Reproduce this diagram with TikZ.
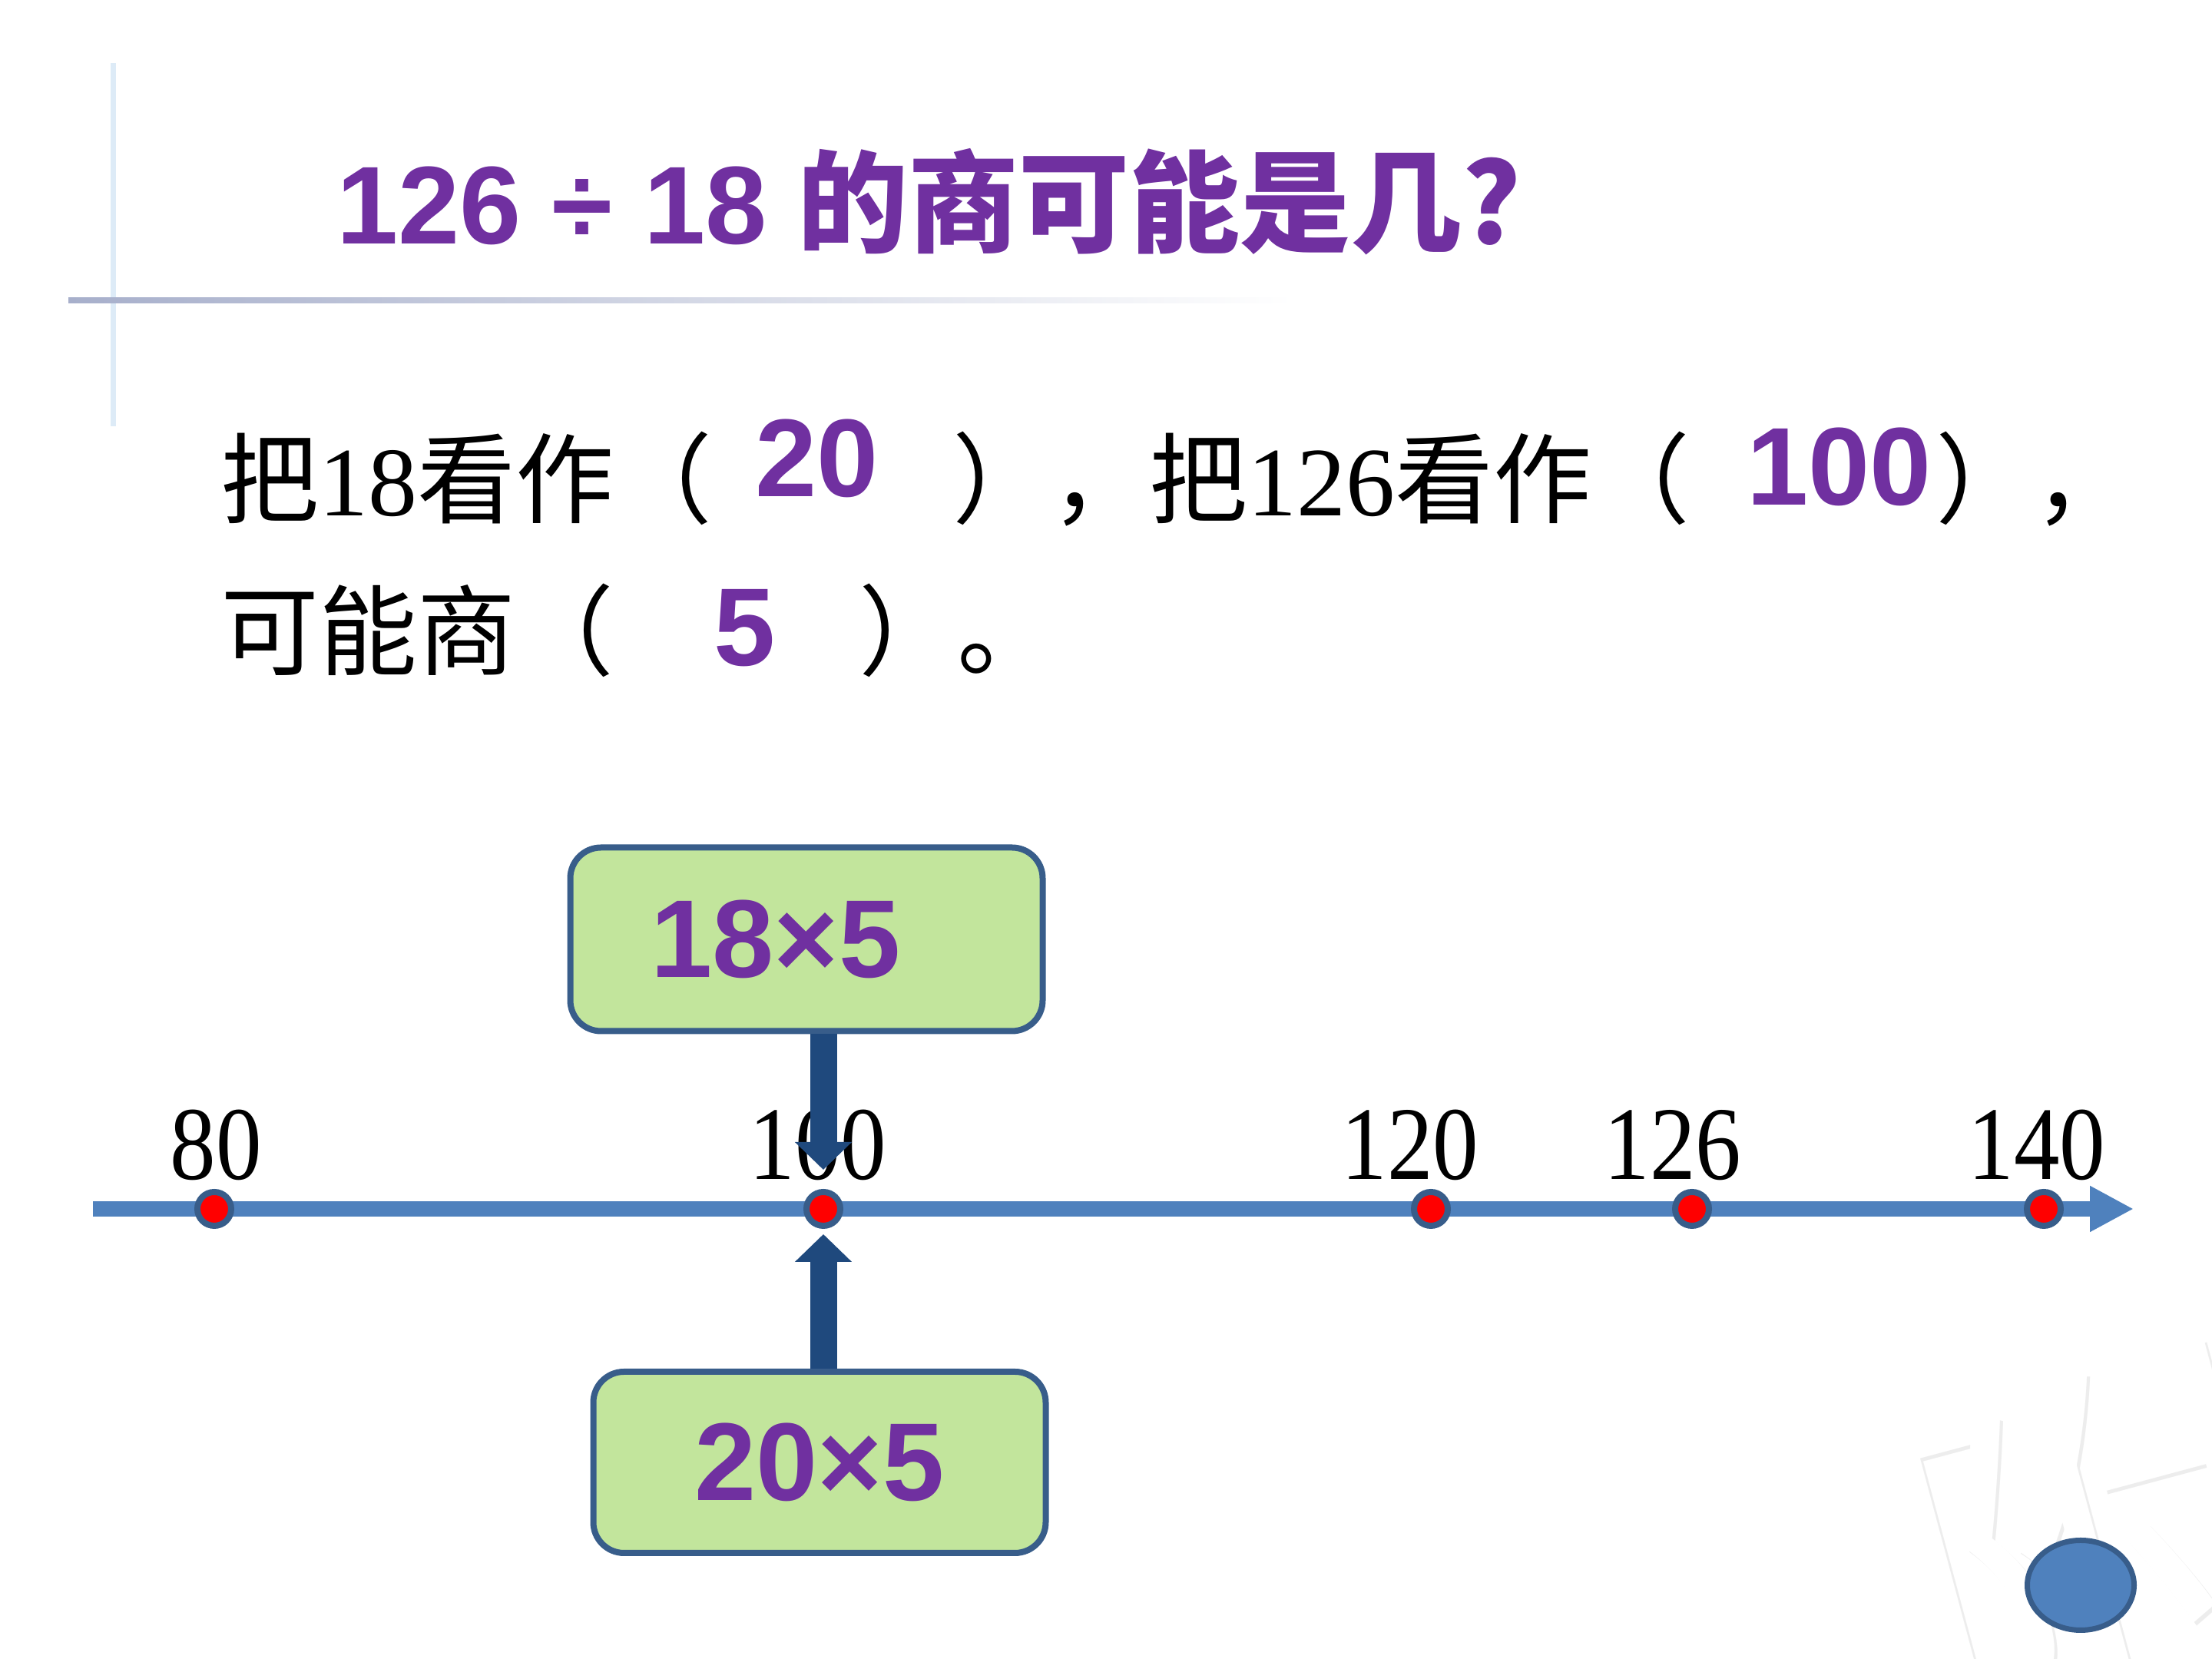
\documentclass[tikz,border=0pt]{standalone}
\usepackage{fontspec}
\setmainfont{Liberation Serif}
\newfontfamily\cjk{Noto Sans CJK SC}
\newfontfamily\arialfont{Liberation Sans}
\usetikzlibrary{arrows.meta}
\definecolor{qPurple}{HTML}{7030A0}
\definecolor{lineBlue}{HTML}{4F81BD}
\definecolor{edgeBlue}{HTML}{385D8A}
\definecolor{arrowNavy}{HTML}{1F497D}
\definecolor{boxGreen}{HTML}{C2E59C}
\definecolor{ruleGray}{HTML}{A7AFCB}
\definecolor{ruleBlue}{HTML}{DDEBF7}
\newcommand{\bodyfont}{\fontsize{36.4pt}{40pt}\selectfont}
\newcommand{\ansfont}{\arialfont\bfseries\fontsize{41pt}{44pt}\selectfont}
\newcommand{\numlabel}[1]{\scalebox{0.875}[1]{#1}}

\begin{document}
\begin{tikzpicture}[
  txt/.style={anchor=base west, inner sep=0pt, font=\bodyfont},
  ans/.style={anchor=base west, inner sep=0pt, font=\ansfont, text=qPurple},
  dot/.style={circle, fill=red, draw=edgeBlue, line width=0.08cm,
              minimum size=0.44cm, inner sep=0pt},
  ticklbl/.style={anchor=base, inner sep=0pt,
                  font=\fontsize{38.7pt}{40pt}\selectfont},
  mulbox/.style={draw=edgeBlue, line width=0.08cm, fill=boxGreen,
                 rounded corners=0.4cm, font=\ansfont, text=qPurple,
                 inner sep=0pt},
  bigarrow/.style={arrowNavy, line width=0.35cm,
                   -{Triangle[length=0.36cm, width=0.72cm]}}
]
\useasboundingbox (0,0) rectangle (28.8,21.6);

% faint watermark
\begin{scope}
\clip (0,0) rectangle (28.8,21.6);
\node[rotate=15, text=black!7, font=\cjk\fontsize{156pt}{156pt}\selectfont]
  (wmshadow) at (27.39,1.21) {附};
\node[rotate=15, text=white, font=\cjk\fontsize{156pt}{156pt}\selectfont]
  (wm) at (27.35,1.25) {附};
\end{scope}

% title rules
\fill[ruleBlue] (1.44,16.05) rectangle (1.51,20.78);
\shade[left color=ruleGray, right color=white] (0.89,17.655) rectangle (16.84,17.725);

% title
\node[ans] (title) at (4.38,18.42) {126 ÷ 18 {\cjk\bfseries 的商可能是几?}};

% sentence
\node[txt] (s1) at (2.87,14.88) {{\cjk 把}18{\cjk 看作（}};
\node[ans] (a1) at (9.83,15.13) {20};
\node[txt] (s2) at (12.40,14.88) {{\cjk ），把}126{\cjk 看作（}};
\node[ans] (a2) at (22.74,15.02) {100};
\node[txt] (s3) at (25.20,14.88) {\cjk ），};
\node[txt] (s4) at (2.87,12.90) {\cjk 可能商（};
\node[ans] (a3) at (9.29,12.93) {5};
\node[txt] (s5) at (11.18,12.90) {\cjk ）。};

% number line
\coordinate (axisL) at (1.21,5.86);
\coordinate (axisR) at (27.78,5.86);
\draw[lineBlue, line width=0.2cm, -{Triangle[length=0.57cm, width=0.56cm]}]
  (axisL) -- (axisR);
\node[dot] (p80)  at (2.79,5.86) {};
\node[dot] (p100) at (10.72,5.86) {};
\node[dot] (p120) at (18.63,5.86) {};
\node[dot] (p126) at (22.03,5.86) {};
\node[dot] (p140) at (26.61,5.86) {};
\node[ticklbl] (l80)  at (2.81,6.24) {\numlabel{80}};
\node[ticklbl] (l100) at (10.65,6.24) {\numlabel{100}};
\node[ticklbl] (l120) at (18.36,6.24) {\numlabel{120}};
\node[ticklbl] (l126) at (21.78,6.24) {\numlabel{126}};
\node[ticklbl] (l140) at (26.52,6.24) {\numlabel{140}};

% estimate boxes
\node[mulbox, minimum width=6.15cm, minimum height=2.39cm] (m18)
  at (10.50,9.37) {18×5\kern0.8cm\mbox{}};
\node[mulbox, minimum width=5.89cm, minimum height=2.36cm] (m20)
  at (10.67,2.56) {20×5};
\draw[bigarrow, shorten >=0.25cm] (m18.south -| p100) -- (p100.north);
\draw[bigarrow, shorten >=0.07cm] (m20.north -| p100) -- (p100.south);

% corner button
\draw[fill=lineBlue, draw=edgeBlue, line width=0.07cm]
  (27.09,0.96) ellipse [x radius=0.695cm, y radius=0.585cm];
\end{tikzpicture}
\end{document}
